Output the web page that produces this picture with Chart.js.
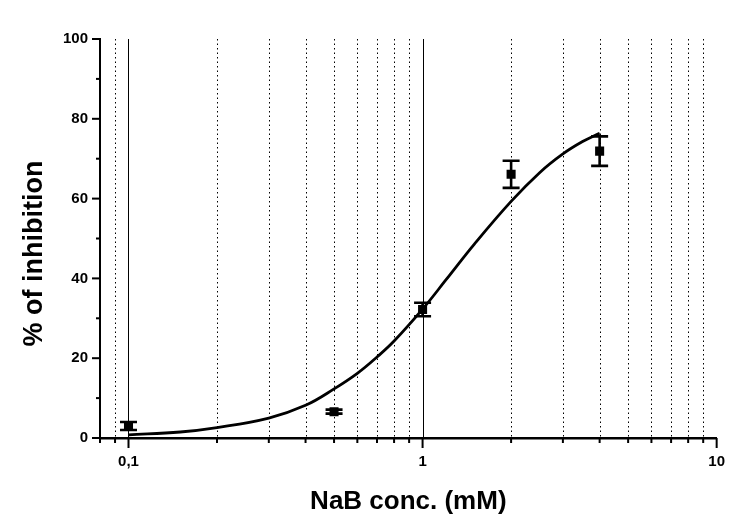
<!DOCTYPE html>
<html>
<head>
<meta charset="utf-8">
<script src="https://cdn.jsdelivr.net/npm/chart.js@4.4.1/dist/chart.umd.min.js"></script>
<style>
  html, body { margin: 0; padding: 0; background: #fff; }
  #wrap { width: 740px; height: 530px; }
</style>
</head>
<body>
<div id="wrap"><canvas id="chart"></canvas></div>
<script>
// measured points (NaB conc. in mM, % of inhibition, error)
const doseX = [0.1, 0.5, 1, 2, 4];
const inhibY = [3.0, 6.6, 32.2, 66.1, 71.9];
const inhibErr = [1.0, 0.5, 1.7, 3.4, 3.7];

// fitted curve
const fitX = [0.1, 0.15, 0.2, 0.3, 0.4, 0.5, 0.6, 0.7, 0.8, 1, 1.2, 1.5, 2, 2.5, 3, 3.5, 4];
const fitY = [0.8, 1.5, 2.6, 5.0, 8.2, 12.3, 16.2, 20.3, 24.3, 32.3, 39.6, 48.6, 59.3, 66.5, 71.2, 74.3, 76.4];

// axis ticks
const xTicks = [0.08, 0.09, 0.1, 0.2, 0.3, 0.4, 0.5, 0.6, 0.7, 0.8, 0.9, 1, 2, 3, 4, 5, 6, 7, 8, 9, 10];
const xLabels = { 0.1: '0,1', 1: '1', 10: '10' };
const xSolidLines = [0.1, 1];
const xDottedLines = [0.09, 0.2, 0.3, 0.4, 0.5, 0.6, 0.7, 0.8, 0.9, 2, 3, 4, 5, 6, 7, 8, 9];
const yTicks = [0, 10, 20, 30, 40, 50, 60, 70, 80, 90, 100];

const FONT = '"Liberation Sans", Arial, Helvetica, sans-serif';

const gridPlugin = {
  id: 'grid',
  beforeDatasetsDraw(chart) {
    const { ctx, chartArea, scales } = chart;
    ctx.save();
    ctx.strokeStyle = '#000';
    ctx.lineWidth = 1;
    ctx.setLineDash([1.5, 3]);
    xDottedLines.forEach(v => {
      const px = Math.round(scales.x.getPixelForValue(v)) + 0.5;
      ctx.beginPath();
      ctx.moveTo(px, chartArea.top);
      ctx.lineTo(px, chartArea.bottom);
      ctx.stroke();
    });
    ctx.setLineDash([]);
    xSolidLines.forEach(v => {
      const px = Math.round(scales.x.getPixelForValue(v)) + 0.5;
      ctx.beginPath();
      ctx.moveTo(px, chartArea.top);
      ctx.lineTo(px, chartArea.bottom);
      ctx.stroke();
    });
    ctx.restore();
  },
  afterDatasetsDraw(chart) {
    // error bars
    const { ctx, scales } = chart;
    ctx.save();
    ctx.strokeStyle = '#000';
    ctx.lineWidth = 2.6;
    doseX.forEach((v, i) => {
      const px = scales.x.getPixelForValue(v);
      const yTop = scales.y.getPixelForValue(inhibY[i] + inhibErr[i]);
      const yBot = scales.y.getPixelForValue(inhibY[i] - inhibErr[i]);
      ctx.beginPath();
      ctx.moveTo(px, yTop);
      ctx.lineTo(px, yBot);
      ctx.moveTo(px - 8.5, yTop);
      ctx.lineTo(px + 8.5, yTop);
      ctx.moveTo(px - 8.5, yBot);
      ctx.lineTo(px + 8.5, yBot);
      ctx.stroke();
    });
    ctx.restore();
  },
  afterDraw(chart) {
    // tick marks, major longer than minor
    const { ctx, chartArea, scales } = chart;
    ctx.save();
    ctx.strokeStyle = '#000';
    ctx.lineWidth = 2;
    xTicks.forEach(v => {
      const px = scales.x.getPixelForValue(v);
      const len = xLabels[v] ? 10 : 5;
      ctx.beginPath();
      ctx.moveTo(px, chartArea.bottom);
      ctx.lineTo(px, chartArea.bottom + len);
      ctx.stroke();
    });
    yTicks.forEach(v => {
      const py = scales.y.getPixelForValue(v);
      const len = v % 20 === 0 ? 8 : 4;
      ctx.beginPath();
      ctx.moveTo(chartArea.left, py);
      ctx.lineTo(chartArea.left - len, py);
      ctx.stroke();
    });
    ctx.restore();
  }
};

const config = {
  type: 'scatter',
  data: {
    datasets: [
      {
        label: 'fit',
        data: fitX.map((x, i) => ({ x: x, y: fitY[i] })),
        showLine: true,
        borderColor: '#000',
        borderWidth: 2.8,
        pointRadius: 0,
        tension: 0.4,
        fill: false
      },
      {
        label: 'inhibition',
        data: doseX.map((x, i) => ({ x: x, y: inhibY[i] })),
        pointStyle: 'rect',
        pointRadius: 6.4,
        backgroundColor: '#000',
        borderColor: '#000',
        borderWidth: 0
      }
    ]
  },
  options: {
    responsive: false,
    animation: false,
    devicePixelRatio: 1,
    layout: { padding: { top: 39, right: 19, left: 0, bottom: 0 } },
    plugins: {
      legend: { display: false },
      tooltip: { enabled: false }
    },
    scales: {
      x: {
        type: 'logarithmic',
        min: 0.08,
        max: 10,
        afterBuildTicks: scale => {
          scale.ticks = xTicks.map(v => ({ value: v }));
        },
        afterFit: scale => { scale.height = 92; },
        grid: { drawOnChartArea: false, drawTicks: false },
        border: { color: '#000', width: 2.5 },
        ticks: {
          autoSkip: false,
          maxRotation: 0,
          padding: 15,
          color: '#000',
          font: { family: FONT, size: 15, weight: 'bold' },
          callback: v => xLabels[v] || ''
        },
        title: {
          display: true,
          text: 'NaB conc. (mM)',
          color: '#000',
          font: { family: FONT, size: 26, weight: 'bold' },
          padding: { top: 0, bottom: 13 }
        }
      },
      y: {
        min: 0,
        max: 100,
        afterBuildTicks: scale => {
          scale.ticks = yTicks.map(v => ({ value: v }));
        },
        afterFit: scale => { scale.width = 100; },
        grid: { drawOnChartArea: false, drawTicks: false },
        border: { color: '#000', width: 2 },
        ticks: {
          autoSkip: false,
          padding: 12,
          color: '#000',
          font: { family: FONT, size: 15, weight: 'bold' },
          callback: v => (v % 20 === 0 ? String(v) : '')
        },
        title: {
          display: true,
          text: '% of inhibition\u00a0\u00a0\u00a0\u00a0',
          color: '#000',
          font: { family: FONT, size: 27, weight: 'bold' },
          padding: { top: 18, bottom: 0 }
        }
      }
    }
  },
  plugins: [gridPlugin]
};

const canvas = document.getElementById('chart');
canvas.width = 740;
canvas.height = 530;
new Chart(canvas.getContext('2d'), config);
</script>
</body>
</html>
